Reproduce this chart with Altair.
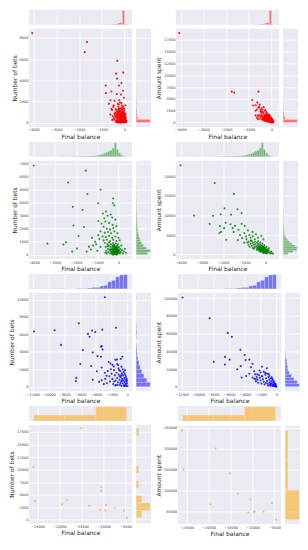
import altair as alt
import pandas as pd

BG = "#EAEAF2"
W, H, M = 104, 99, 15

# ---------------- Row 1 (red) ----------------
red_bets_pts = [
    (-4050, 8450), (-1650, 7600), (-1750, 6650), (-320, 5830), (-370, 4620), (-60, 4720),
    (-330, 4150), (-830, 3500), (-820, 2780), (-580, 2930), (-250, 3500), (-140, 3740),
    (-70, 3010), (-345, 2700), (-165, 2640), (-620, 2110), (-440, 2060), (-235, 2110),
    (-30, 2350), (-690, 1770), (-480, 1620), (-300, 1770), (-140, 1830), (30, 1620),
    (-550, 1190), (-390, 1250), (-250, 1330), (-70, 1250), (-620, 750), (-440, 840),
    (-420, 900), (-380, 700), (-350, 500), (-330, 300), (-300, 150), (-290, 1100), (-270, 850),
    (-260, 600), (-250, 400), (-240, 200), (-230, 50), (-220, 1300), (-210, 1000), (-200, 750),
    (-190, 550), (-180, 350), (-170, 150), (-160, 0), (-150, 1200), (-140, 900), (-130, 650),
    (-120, 450), (-110, 250), (-100, 80), (-90, 1400), (-80, 1050), (-70, 800), (-60, 600),
    (-50, 400), (-40, 200), (-30, 50), (-20, 1150), (-10, 900), (0, 700), (10, 500), (20, 300),
    (30, 120), (40, 800), (50, 450), (60, 200), (70, 30), (-450, 300), (-400, 150), (-370, 1000),
    (-320, 800), (-280, 1500), (-250, 1250), (-120, 1600), (-60, 1500), (-180, 1050), (-150, 500),
    (-90, 300), (-60, 100), (-20, 0), (-130, 30), (-270, 0), (-310, 600), (-200, 250), (10, 250),
    (-5, 80), (-100, 700), (-230, 600), (-40, 1000), (80, 150), (-350, 150), (-75, 50), (-170, 20),
    (-110, 1000), (-15, 600), (25, 30), (-260, 1700), (-200, 1900), (-520, 600), (-480, 400),
    (-540, 250), (-580, 1300), (-500, 1500),
    (-340, 800), (-315, 420), (-295, 250), (-275, 720), (-255, 90), (-245, 950), (-225, 480),
    (-215, 180), (-205, 860), (-195, 120), (-185, 680), (-175, 430), (-165, 790), (-155, 280),
    (-145, 60), (-135, 730), (-125, 170), (-115, 840), (-105, 560), (-95, 90), (-85, 640),
    (-75, 360), (-65, 930), (-55, 220), (-45, 710), (-35, 480), (-25, 140), (-15, 350), (-5, 520),
    (5, 130), (15, 780), (25, 420), (35, 600), (45, 250), (55, 80), (-280, 1000), (-240, 1150),
    (-160, 1350), (-100, 1250), (-30, 1300), (-360, 1200), (-400, 500), (-430, 650), (-300, 950),
    (-220, 820), (-170, 580), (-90, 740), (-50, 870), (-140, 380), (-60, 250), (-10, 30),
    (-110, 20), (-210, 20), (-300, 20), (-360, 40),
]
red_spent_pts = [
    (-4050, 18900), (-1750, 6530), (-1640, 6330), (-580, 6530), (-850, 4770), (-805, 3600),
    (-625, 4240), (-695, 3650), (-530, 3790), (-585, 3130), (-445, 3000), (-350, 3260),
    (-280, 2610), (-485, 2350), (-390, 2150), (-210, 1960), (-700, 2500), (-650, 2700),
    (-550, 3300), (-480, 2700), (-400, 2200),
    (-450, 1800), (-420, 1300), (-400, 900), (-380, 600), (-350, 2000), (-330, 1500), (-310, 1100),
    (-300, 700), (-280, 450), (-260, 1700), (-250, 1300), (-240, 900), (-220, 600), (-200, 350),
    (-190, 1500), (-180, 1100), (-170, 800), (-160, 500), (-150, 250), (-140, 1300), (-130, 1000),
    (-120, 700), (-110, 450), (-100, 200), (-90, 1100), (-80, 850), (-70, 600), (-60, 400),
    (-50, 150), (-40, 900), (-30, 650), (-20, 450), (-10, 250), (0, 100), (10, 700), (20, 450),
    (30, 250), (40, 100), (50, 500), (60, 300), (70, 150), (80, 50), (-550, 1600), (-500, 1200),
    (-520, 800), (-600, 1400), (-470, 2300), (-230, 2200), (-120, 1700), (-60, 1300), (-20, 1000),
    (-90, 300), (-5, 20), (30, 0), (-250, 400), (-350, 500), (-150, 600), (-200, 1800),
    (-300, 2500), (-400, 2700), (-650, 1000), (-600, 700), (-700, 1500), (-100, 1500),
    (-340, 700), (-320, 900), (-300, 1300), (-280, 800), (-270, 600), (-260, 1000), (-240, 500),
    (-230, 1200), (-210, 800), (-200, 550), (-190, 300), (-180, 950), (-170, 650), (-160, 1200),
    (-150, 400), (-140, 850), (-130, 550), (-120, 300), (-110, 1150), (-100, 650), (-95, 450),
    (-85, 250), (-75, 950), (-65, 500), (-55, 300), (-45, 700), (-35, 200), (-25, 550), (-15, 350),
    (-5, 150), (5, 400), (15, 250), (25, 600), (35, 350), (45, 200), (55, 100), (65, 400),
    (-310, 450), (-360, 850), (-390, 1100), (-420, 700), (-440, 1500), (-280, 1600), (-200, 1400),
    (-130, 1450), (-60, 1000), (0, 800), (-250, 250), (-180, 200), (-110, 150), (-50, 60), (20, 50),
]
red_xh_start = [-4100, -1800, -1700, -900, -800, -700, -600, -500, -400, -300, -200, -100, 0]
red_xh_count = [1, 1, 1, 1, 1, 2, 2, 3, 5, 12, 15, 100, 3]
red_xh_width = 100
red_bh_start = [0, 300, 600, 900, 1200, 1500, 1800, 2100, 2400, 2700, 3000, 3300, 4200, 4500, 5700, 6600, 7500, 8400]
red_bh_count = [100, 12, 8, 6, 4, 3, 3, 2, 2, 2, 1, 1, 1, 1, 1, 1, 1, 1]
red_bh_width = 300
red_sh_start = [0, 650, 1300, 1950, 2600, 3250, 3900, 4550, 5850, 6500, 18850]
red_sh_count = [100, 15, 6, 4, 2, 2, 1, 1, 1, 1, 1]
red_sh_width = 650

# ---------------- Row 2 (green) ----------------
green_bets_pts = [
    (-3985, 6880), (-1540, 6480), (-2370, 5560), (-845, 5010), (-1470, 4680), (-2150, 3690),
    (-1690, 3450), (-960, 3970), (-250, 4330), (-270, 3970), (-200, 3800), (-2120, 2250),
    (-1630, 2130), (-1880, 1440), (-960, 1510), (-3350, 850), (-2470, 950), (-2600, 780),
    (-2180, 240), (-1960, 470), (-1390, 620), (-1100, 1000),
    (-740, 3170), (-590, 3330), (-520, 3000), (-670, 2810), (-370, 3100), (-300, 2860), (-950, 2600),
    (-800, 2400), (-620, 2550), (-450, 2450), (-280, 2300), (-150, 2700), (-700, 2150), (-550, 2000),
    (-400, 1950), (-250, 2050), (-100, 2200), (-850, 1800), (-650, 1700), (-500, 1750), (-350, 1650),
    (-200, 1800), (-50, 1650), (-750, 1400), (-600, 1350), (-450, 1450), (-300, 1300), (-150, 1400),
    (0, 1300), (-900, 1200), (-700, 1100), (-550, 1150), (-400, 1050), (-250, 1150), (-100, 1050),
    (50, 1100), (-1250, 1300), (-1200, 700), (-1500, 250), (-1300, 400), (-1000, 300), (-1050, 800),
    (-850, 600),
    (-650, 900), (-600, 600), (-580, 300), (-550, 100), (-520, 800), (-500, 450), (-480, 200),
    (-460, 700), (-440, 950), (-420, 350), (-400, 100), (-380, 600), (-360, 800), (-340, 250),
    (-320, 500), (-300, 50), (-290, 700), (-280, 350), (-260, 900), (-250, 150), (-240, 550),
    (-220, 300), (-210, 750), (-200, 50), (-190, 450), (-180, 200), (-170, 650), (-160, 350),
    (-150, 100), (-140, 500), (-130, 850), (-120, 250), (-110, 600), (-100, 0), (-90, 400),
    (-80, 150), (-70, 700), (-60, 300), (-50, 500), (-40, 100), (-30, 250), (-20, 800), (-10, 400),
    (0, 150), (20, 600), (40, 300), (60, 100), (80, 450), (100, 200), (130, 700), (160, 350),
    (200, 100), (250, 250), (300, 450), (350, 150), (-330, 150), (-270, 450), (-230, 100),
    (-170, 50), (-130, 350), (-70, 50), (-10, 200), (-350, 400), (-210, 250), (-150, 600),
    (-90, 200), (-40, 350), (-260, 0), (-400, 400), (-310, 250), (-190, 300), (-120, 150),
    (-240, 700), (-80, 550), (-500, 650), (-620, 150),
    (-280, 200), (-230, 380), (-180, 120), (-140, 260), (-100, 420), (-60, 180), (-20, 320),
    (-250, 600), (-200, 480), (-160, 560), (-110, 300), (-70, 420), (-30, 550), (10, 320),
]
green_spent_pts = [
    (-4000, 22800), (-2390, 18300), (-1490, 15500), (-3360, 10000), (-2470, 9900), (-1930, 11800),
    (-2110, 10300), (-1320, 11600), (-1130, 10600), (-1620, 10200), (-2630, 7850), (-2140, 7300),
    (-2170, 5500), (-1950, 6750), (-1550, 6750), (-1130, 7850), (-1850, 3800),
    (-2100, 5800), (-1870, 8150), (-1650, 7750), (-1430, 7350), (-1280, 6350), (-980, 7350),
    (-830, 6200), (-760, 5000), (-610, 5800), (-910, 4600), (-1200, 5000), (-1500, 5800),
    (-1000, 5500), (-700, 4300), (-900, 3900), (-600, 4700), (-450, 5200), (-1100, 4200),
    (-800, 3300), (-500, 3900), (-350, 4300), (-650, 3500), (-1300, 3700), (-1000, 3000),
    (-200, 4800), (-100, 3900),
    (-700, 2800), (-650, 2200), (-600, 3000), (-560, 2500), (-520, 1900), (-500, 3300), (-480, 2700),
    (-450, 2100), (-420, 1600), (-400, 3000), (-380, 2400), (-360, 1900), (-340, 1300), (-320, 2700),
    (-300, 2200), (-280, 1700), (-260, 1100), (-250, 2500), (-230, 2000), (-210, 1500), (-200, 900),
    (-180, 2300), (-160, 1800), (-150, 1300), (-140, 700), (-120, 2100), (-100, 1600), (-90, 1100),
    (-80, 500), (-60, 1900), (-40, 1400), (-30, 900), (-10, 400), (0, 1700), (20, 1200), (40, 700),
    (60, 300), (80, 1400), (100, 900), (120, 500), (150, 1100), (180, 600), (220, 300), (260, 800),
    (300, 400), (350, 200), (-350, 1500), (-300, 1000), (-250, 1400), (-200, 1200), (-150, 1000),
    (-100, 800), (-50, 600), (-270, 2000), (-190, 1600), (-130, 1700), (-70, 1200), (-20, 1100),
    (50, 1000), (-400, 1200), (-230, 700), (10, 500), (-110, 400), (-550, 1500), (-600, 1700),
    (-750, 2000), (-800, 2500), (-850, 3100), (-700, 3600), (-350, 3400), (-250, 3100), (-150, 2800),
    (-50, 2400), (50, 2000), (150, 1600),
    (-330, 1800), (-290, 1450), (-240, 1750), (-190, 1250), (-170, 1500), (-120, 1300), (-80, 1000),
    (-40, 1700), (0, 1200), (-260, 1300), (-220, 1050), (-110, 1900), (-60, 1500), (20, 900),
]
green_xh_start = [-4000, -3400, -2700, -2500, -2400, -2200, -2100, -2000, -1900, -1800, -1700, -1600,
                  -1500, -1400, -1300, -1200, -1100, -1000, -900, -800, -700, -600, -500, -400, -300,
                  -200, -100, 0, 100, 200, 300]
green_xh_count = [2, 2, 2, 2, 2, 3, 3, 3, 3, 3, 4, 4, 5, 6, 6, 7, 8, 12, 14, 20, 25, 32, 40, 48, 62,
                  100, 52, 28, 12, 5, 2]
green_xh_width = 100
green_bh_start = [0, 200, 400, 600, 800, 1000, 1200, 1400, 1600, 1800, 2000, 2200, 2400, 2600, 2800,
                  3000, 3200, 3400, 3600, 3800, 4000, 4200, 4600, 5000, 5400, 6400, 6800]
green_bh_count = [80, 100, 72, 52, 40, 30, 24, 18, 14, 12, 10, 9, 8, 7, 6, 5, 5, 4, 4, 3, 3, 2, 2, 2, 1, 1, 1]
green_bh_width = 200
green_sh_start = [0, 500, 1000, 1500, 2000, 2500, 3000, 3500, 4000, 4500, 5000, 5500, 6000, 6500, 7000,
                  7500, 8000, 8500, 9000, 9500, 10000, 10500, 11000, 11500, 15500, 18000, 22500]
green_sh_count = [35, 70, 95, 100, 82, 62, 46, 32, 22, 14, 9, 7, 6, 5, 4, 4, 3, 2, 2, 2, 2, 2, 1, 2, 1, 1, 1]
green_sh_width = 500

# ---------------- Row 3 (blue) ----------------
blue_bets_pts = [
    (-11850, 6330), (-9230, 6470), (-8430, 4790), (-6170, 7270), (-2860, 10250), (-1450, 6750),
    (-5000, 6050), (-4800, 5730), (-4480, 6430), (-4070, 6260), (-3190, 6540), (-5650, 4200),
    (-3350, 4580), (-3250, 4650), (-4400, 3920), (-3790, 3500), (-3350, 3430), (-3150, 4270),
    (-5970, 2590), (-4600, 2380), (-6490, 1010), (-6530, 660), (-4400, 800), (-3270, 2200),
    (-3590, 560), (-2380, 2830), (-2140, 2660), (-1730, 2310), (-1530, 3080), (-1330, 3110),
    (-645, 3430), (-1170, 2480), (-3270, 730), (-2860, 1610), (-2660, 1260), (-3870, 1780), (-850, 3180),
    (-2500, 1800), (-2300, 1200), (-2200, 600), (-2100, 2000), (-2000, 1500), (-1900, 900),
    (-1800, 300), (-1700, 1900), (-1600, 1300), (-1500, 700), (-1450, 200), (-1400, 1600),
    (-1300, 1000), (-1200, 500), (-1150, 2100), (-1100, 1400), (-1000, 800), (-950, 200),
    (-900, 1800), (-850, 1100), (-800, 600), (-750, 100), (-700, 1500), (-650, 900), (-600, 400),
    (-550, 1300), (-500, 700), (-450, 200), (-400, 1000), (-350, 500), (-300, 100), (-250, 800),
    (-200, 300), (-150, 600), (-100, 150), (-50, 400), (0, 50), (-1250, 200), (-1050, 1900),
    (-750, 2300), (-600, 2000), (-350, 1500), (-200, 1100), (-100, 900), (-1700, 600), (-2600, 400),
    (-2800, 900), (-3000, 300), (-1900, 2500), (-1300, 2600), (-500, 1700), (-250, 1300), (-50, 700),
    (-400, 50), (-800, 1300), (-1000, 1200), (-1550, 150), (-900, 400), (-300, 1900), (-700, 700),
]
blue_spent_pts = [
    (-11900, 100700), (-8470, 77400), (-6170, 60800), (-5650, 56300), (-7940, 28100), (-4560, 41700),
    (-4030, 35800), (-6530, 33700), (-6530, 25000), (-5930, 30600), (-3910, 30200), (-3430, 30600),
    (-3020, 26000), (-4520, 23300), (-4960, 19800), (-3230, 21900), (-1820, 22600), (-4400, 10400),
    (-2140, 18400), (-1410, 15600), (-3430, 14600), (-2820, 17400), (-2420, 13900), (-1820, 12150),
    (-1210, 20800), (-3020, 10400), (-3830, 12150), (-2620, 8700),
    (-2800, 9000), (-2600, 6000), (-2500, 11000), (-2400, 8000), (-2300, 4500), (-2200, 13000),
    (-2100, 10000), (-2000, 7000), (-1900, 3500), (-1800, 11500), (-1700, 8500), (-1600, 5500),
    (-1500, 2500), (-1400, 13500), (-1300, 9500), (-1200, 6500), (-1100, 3500), (-1050, 1500),
    (-1000, 11000), (-900, 8000), (-850, 5000), (-800, 2500), (-750, 1000), (-700, 9500),
    (-650, 6500), (-600, 4000), (-550, 2000), (-500, 800), (-450, 7500), (-400, 5000), (-350, 3000),
    (-300, 1500), (-250, 500), (-200, 4000), (-150, 2500), (-100, 1200), (-50, 400), (0, 100),
    (-1200, 15000), (-900, 12500), (-600, 10500), (-300, 6000), (-100, 3000), (-2000, 16000),
    (-1600, 17000), (-1000, 14500), (-500, 9000), (-1350, 4200), (-750, 3200), (-400, 1800),
    (-150, 900), (-2700, 14000),
]
blue_xh_start = [-12000, -9500, -8500, -8000, -6500, -6000, -5500, -5000, -4500, -4000, -3500, -3000,
                 -2500, -2000, -1500, -1000, -500]
blue_xh_count = [1, 1, 1, 1, 3, 2, 3, 6, 10, 10, 20, 25, 50, 60, 85, 98, 100]
blue_xh_width = 500
blue_bh_start = [0, 500, 1000, 1500, 2000, 2500, 3000, 3500, 4000, 4500, 5500, 6000, 6500, 7000, 10000]
blue_bh_count = [100, 75, 55, 40, 28, 20, 12, 8, 6, 4, 3, 5, 3, 2, 2]
blue_bh_width = 500
blue_sh_start = [0, 3500, 7000, 10500, 14000, 17500, 21000, 24500, 28000, 31500, 35000, 38500, 56000,
                 59500, 77000, 98000]
blue_sh_count = [100, 85, 62, 45, 30, 20, 18, 14, 12, 5, 3, 2, 2, 1, 1, 1]
blue_sh_width = 3500

# ---------------- Row 4 (orange) ----------------
orange_bets_pts = [
    (-15100, 18240), (-25940, 10510), (-25580, 3710), (-19440, 3090), (-18290, 3900), (-13230, 2780),
    (-10560, 6490), (-10560, 5750), (-10780, 1980), (-9620, 1850), (-9400, 2970), (-7450, 2410),
    (-5360, 1850), (-4710, 370),
]
orange_spent_pts = [
    (-26080, 243400), (-25720, 150000), (-18430, 200000), (-15110, 141200), (-13300, 93400),
    (-10420, 78700), (-10920, 47800), (-9620, 49300), (-9550, 50700), (-7530, 50700),
    (-5580, 70600), (-4640, 30900), (-19590, 67600),
]
orange_xh_start = [-25950, -18870, -11790]
orange_xh_count = [3, 3, 7]
orange_xh_width = 7080
orange_bh_start = [370, 1860, 3350, 6330, 9310, 16760]
orange_bh_count = [2, 5, 2, 1, 1, 1]
orange_bh_width = 1490
orange_sh_start = [30880, 101710, 172540]
orange_sh_count = [10, 2, 2]
orange_sh_width = 70830


def hist_df(starts, counts, width):
    return pd.DataFrame({"s": starts, "e": [v + width for v in starts], "c": counts, "z": 0})


def joint(pts, xh, yh, color, xdom, ydom, xticks, yticks, ytitle, pop):
    sc_df = pd.DataFrame(pts, columns=["x", "y"])
    xs = alt.Scale(domain=xdom, nice=False, zero=False)
    ys = alt.Scale(domain=ydom, nice=False, zero=False)
    top_df = hist_df(*xh)
    right_df = hist_df(*yh)
    top = alt.Chart(top_df).mark_rect(color=color, opacity=0.5, stroke="white", strokeWidth=0.3).encode(
        x=alt.X("s:Q", scale=xs, axis=alt.Axis(values=xticks, labels=False, title=None)),
        x2="e:Q",
        y=alt.Y("c:Q", scale=alt.Scale(domain=[0, max(xh[1]) * 1.05], nice=False), axis=None),
        y2="z:Q",
    ).properties(width=W, height=M)
    scatter = alt.Chart(sc_df).mark_circle(size=4.5, color=color, opacity=pop).encode(
        x=alt.X("x:Q", scale=xs, axis=alt.Axis(values=xticks, format="d", title="Final balance")),
        y=alt.Y("y:Q", scale=ys, axis=alt.Axis(values=yticks, format="d", title=ytitle)),
    ).properties(width=W, height=H)
    right = alt.Chart(right_df).mark_rect(color=color, opacity=0.5, stroke="white", strokeWidth=0.3).encode(
        y=alt.Y("s:Q", scale=ys, axis=alt.Axis(values=yticks, labels=False, title=None)),
        y2="e:Q",
        x=alt.X("c:Q", scale=alt.Scale(domain=[0, max(yh[1]) * 1.05], nice=False), axis=None),
        x2="z:Q",
    ).properties(width=M, height=H)
    return alt.vconcat(top, alt.hconcat(scatter, right, spacing=3), spacing=3)


rows = []
# row 1
xd = [-4200, 330]
xt = [-4000, -3000, -2000, -1000, 0]
rows.append(alt.hconcat(
    joint(red_bets_pts, (red_xh_start, red_xh_count, red_xh_width), (red_bh_start, red_bh_count, red_bh_width),
          "#FF0000", xd, [-420, 8870], xt, [0, 2000, 4000, 6000, 8000], "Number of bets", 0.9),
    joint(red_spent_pts, (red_xh_start, red_xh_count, red_xh_width), (red_sh_start, red_sh_count, red_sh_width),
          "#FF0000", xd, [-950, 19850], xt, [0, 2500, 5000, 7500, 10000, 12500, 15000, 17500], "Amount spent", 0.9),
    spacing=4))
# row 2
xd = [-4220, 640]
rows.append(alt.hconcat(
    joint(green_bets_pts, (green_xh_start, green_xh_count, green_xh_width), (green_bh_start, green_bh_count, green_bh_width),
          "#008000", xd, [-340, 7240], xt, [0, 1000, 2000, 3000, 4000, 5000, 6000, 7000], "Number of bets", 0.8),
    joint(green_spent_pts, (green_xh_start, green_xh_count, green_xh_width), (green_sh_start, green_sh_count, green_sh_width),
          "#008000", xd, [-1150, 23970], xt, [0, 5000, 10000, 15000, 20000], "Amount spent", 0.8),
    spacing=4))
# row 3
xd = [-12500, 600]
xt = [-12000, -10000, -8000, -6000, -4000, -2000, 0]
rows.append(alt.hconcat(
    joint(blue_bets_pts, (blue_xh_start, blue_xh_count, blue_xh_width), (blue_bh_start, blue_bh_count, blue_bh_width),
          "#0000FF", xd, [-510, 10750], xt, [0, 2000, 4000, 6000, 8000, 10000], "Number of bets", 0.8),
    joint(blue_spent_pts, (blue_xh_start, blue_xh_count, blue_xh_width), (blue_sh_start, blue_sh_count, blue_sh_width),
          "#0000FF", xd, [-5050, 106000], xt, [0, 20000, 40000, 60000, 80000, 100000], "Amount spent", 0.8),
    spacing=4))
# row 4
xd = [-27000, -3500]
xt = [-25000, -20000, -15000, -10000, -5000]
rows.append(alt.hconcat(
    joint(orange_bets_pts, (orange_xh_start, orange_xh_count, orange_xh_width), (orange_bh_start, orange_bh_count, orange_bh_width),
          "#FFA500", xd, [-700, 18900], xt, [0, 2500, 5000, 7500, 10000, 12500, 15000, 17500], "Number of bets", 0.6),
    joint(orange_spent_pts, (orange_xh_start, orange_xh_count, orange_xh_width), (orange_sh_start, orange_sh_count, orange_sh_width),
          "#FFA500", xd, [20000, 254000], xt, [50000, 100000, 150000, 200000, 250000], "Amount spent", 0.6),
    spacing=4))

chart = alt.vconcat(*rows, spacing=2, padding=0).configure_view(
    fill=BG, stroke=None
).configure_axis(
    grid=True, gridColor="white", gridWidth=0.8, domain=False, ticks=False,
    labelFontSize=3.5, labelColor="#333333", labelPadding=1, labelFont="DejaVu Sans",
    titleFontSize=6, titleFontWeight="normal", titleColor="#262626", titlePadding=2,
    titleFont="DejaVu Sans",
)

chart.save("out.html", embed_options={"renderer": "svg", "actions": False})
